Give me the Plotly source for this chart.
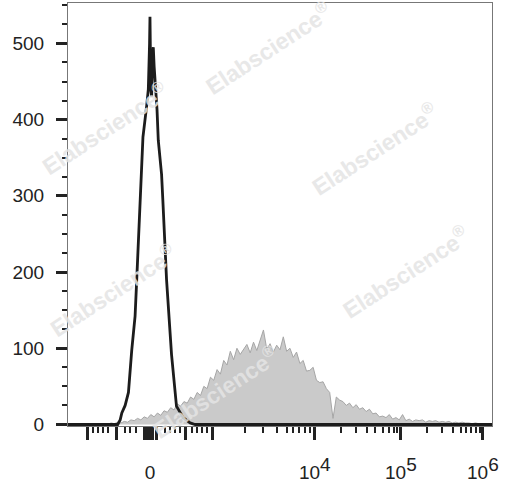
import plotly.graph_objects as go

# x values are display channels (0-1024) of a biexponential scale
# black: unstained control, drawn as an outline
ctrl_ch = [0, 120, 126, 130, 138, 146, 154, 162, 166, 174, 181, 190, 194, 197, 198,
           200, 202, 204, 206, 208, 210, 215, 218, 222, 226, 229, 238, 250, 262,
           278, 295, 307, 1024]
ctrl_counts = [0, 0, 6, 15, 25, 42, 98, 142, 190, 295, 377, 418, 440, 500, 535,
               440, 430, 480, 495, 470, 456, 413, 373, 347, 328, 295, 190, 92, 24,
               9, 2, 0, 0]

# gray: stained sample, filled
stain_ch = list(range(80, 1001, 8))
stain_counts = [
    0, 1, 0, 2, 1, 3, 2, 4, 3, 6, 5, 8, 6, 10, 8, 13, 10, 15, 12, 18,
    16, 22, 19, 27, 24, 30, 28, 36, 33, 42, 38, 50, 47, 62, 58, 72, 66, 84, 78, 96,
    85, 100, 92, 98, 105, 94, 108, 97, 110, 124, 99, 106, 95, 104, 98, 115, 96, 100, 88, 95,
    80, 84, 70, 71, 75, 58, 55, 56, 47, 42, 8, 36, 32, 30, 25, 28, 22, 26, 20, 22,
    17, 20, 14, 15, 10, 11, 9, 13, 7, 9, 6, 13, 5, 7, 4, 6, 5, 6, 3, 5,
    4, 5, 3, 4, 3, 4, 2, 3, 2, 3, 2, 2, 1, 2, 1, 0,
]

# axis ticks (channel positions)
sup = "<sup><span style='font-size:19px'>{}</span></sup>"
x_major = [48, 118, 184, 191, 198, 205, 213, 283, 348, 596, 804, 1002]
x_major_text = ["", "", "", "", "0", "", "", "", "",
                "10" + sup.format(4), "10" + sup.format(5), "10" + sup.format(6)]
x_minor = [60, 72, 85, 97, 138, 150, 164, 234, 246, 258, 270, 299, 312, 324, 336,
           427, 471, 505, 529, 543, 558, 572, 584, 659, 696, 722, 741, 761, 775,
           787, 795, 867, 903, 930, 949, 961, 973, 985, 995]

watermarks = [(0.087, 0.705), (0.106, 0.322), (0.347, 0.080),
              (0.472, 0.893), (0.722, 0.655), (0.795, 0.364)]

fig = go.Figure()
fig.add_trace(go.Scatter(
    x=stain_ch, y=stain_counts, mode="lines", fill="tozeroy",
    fillcolor="#cacaca", line=dict(color="#a6a6a6", width=1),
    hoverinfo="skip",
))
fig.add_trace(go.Scatter(
    x=ctrl_ch, y=ctrl_counts, mode="lines",
    line=dict(color="#1c1c1c", width=2.8),
    hoverinfo="skip",
))

for wx, wy in watermarks:
    fig.add_annotation(
        x=wx, y=wy, xref="paper", yref="paper", showarrow=False,
        xanchor="center", yanchor="middle",
        text="Elabscience<sup>®</sup>", textangle=-33,
        font=dict(family="Liberation Sans, Arial", size=23, color="#e4e4e4",
                  weight="bold"),
        opacity=0.85,
    )

fig.update_layout(
    width=512, height=485,
    margin=dict(l=68, r=20, t=3, b=59, autoexpand=False),
    plot_bgcolor="white", paper_bgcolor="white",
    showlegend=False, hovermode=False,
    font=dict(family="Liberation Sans, Arial", size=19, color="#222"),
)
fig.update_xaxes(
    range=[0, 1024], showgrid=False, zeroline=False, automargin=False,
    showline=True, linecolor="#777", linewidth=1, mirror=True,
    tickmode="array", tickvals=x_major, ticktext=x_major_text, tickangle=0,
    ticks="outside", ticklen=13, tickwidth=3, tickcolor="#222",
    ticklabelstandoff=16, tickfont=dict(size=19),
    minor=dict(tickmode="array", tickvals=x_minor, ticks="outside",
               ticklen=6, tickwidth=2, tickcolor="#222"),
)
fig.update_yaxes(
    range=[-2, 553], showgrid=False, zeroline=False, automargin=False,
    showline=True, linecolor="#777", linewidth=1, mirror=True,
    tickmode="linear", tick0=0, dtick=100,
    ticks="outside", ticklen=11, tickwidth=3, tickcolor="#222",
    ticklabelstandoff=8,
    minor=dict(dtick=25, ticks="outside", ticklen=5, tickwidth=2, tickcolor="#222"),
)

# page body has a default 8px margin; drop it so the figure sits at the corner
fig.write_html("out.html", config={"displayModeBar": False},
               post_script="document.body.style.margin='0px';")
